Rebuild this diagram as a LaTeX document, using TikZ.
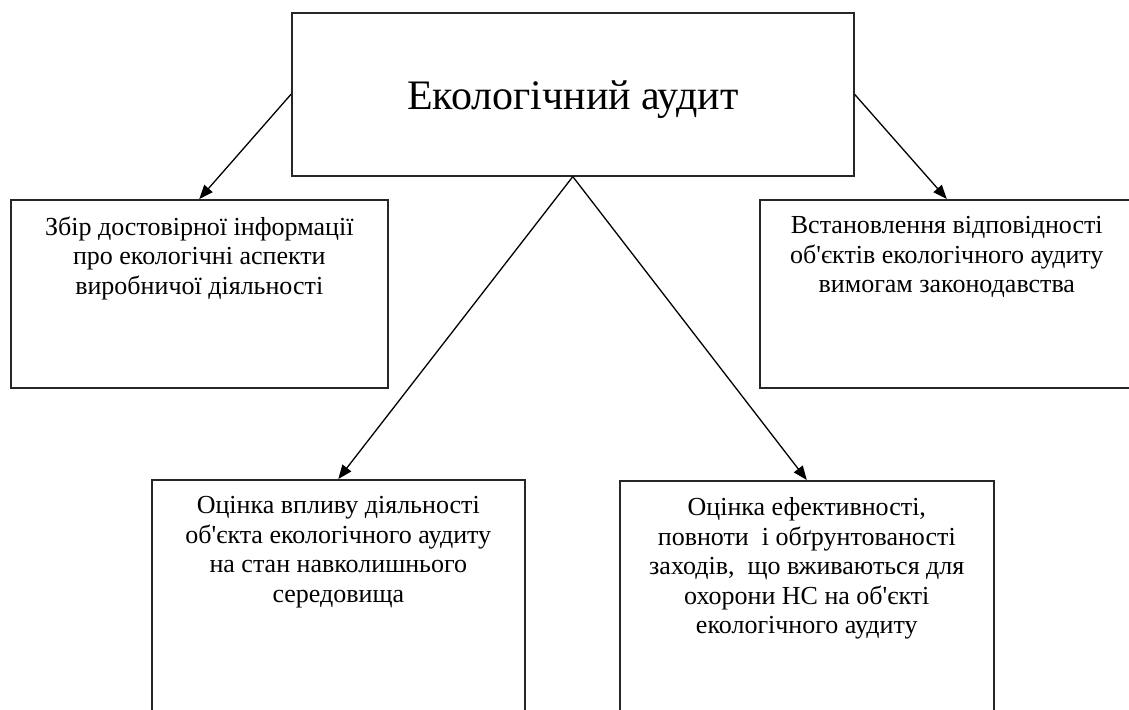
\documentclass[tikz,border=0pt]{standalone}
\usepackage{fontspec}
\setmainfont{Liberation Serif}
\usetikzlibrary{positioning,arrows.meta}
\tikzset{
  panel/.style={draw=black!85,line width=1.6pt,inner sep=0pt,anchor=north west},
  blurb/.style={align=center,inner sep=0pt,font=\fontsize{26}{29.5}\selectfont},
  link/.style={-{Triangle[length=14pt,width=11pt]},line width=1.3pt}
}

\begin{document}
\begin{tikzpicture}[x=1pt,y=-1pt]
  \useasboundingbox (0,0) rectangle (1129,709);
  \clip (0,0) rectangle (1129,709);

  % — Main box
  \node[panel,minimum width=562pt,minimum height=163pt,text height=31pt,text depth=0pt,
        font=\fontsize{42}{49}\selectfont] (audit) at (291,12) {Екологічний аудит};

  % — Upper side boxes
  \node[panel,minimum width=377pt,minimum height=188pt] (collect) at (10,199) {};
  \node[panel,minimum width=374pt,minimum height=188pt] (comply)  at (759,199) {};

  % — Lower boxes (they run past the page edge)
  \node[panel,minimum width=373pt,minimum height=250pt] (impact)   at (151,479) {};
  \node[panel,minimum width=374pt,minimum height=250pt] (measures) at (619,480) {};

  % — Texts inside the boxes
  \node[blurb,below=17.5pt of collect.north] (collecttxt)
    {Збір достовірної інформації\\про екологічні аспекти\\виробничої діяльності};
  \node[blurb,below=17.5pt of comply.north] (complytxt)
    {Встановлення відповідності\\об\textquotesingle єктів екологічного аудиту\\вимогам законодавства};
  \node[blurb,below=17.5pt of impact.north] (impacttxt)
    {Оцінка впливу діяльності\\об\textquotesingle єкта екологічного аудиту\\на стан навколишнього\\середовища};
  \node[blurb,below=17.5pt of measures.north] (measurestxt)
    {Оцінка ефективності,\\повноти~ і обґрунтованості\\заходів,~ що вживаються для\\охорони НС на об\textquotesingle єкті\\екологічного аудиту};

  % — Arrows from the main box
  \draw[link] (audit.west)  -- (collect.north);
  \draw[link] (audit.east)  -- (comply.north);
  \draw[link] (audit.south) -- (impact.north);
  \draw[link] (audit.south) -- (measures.north);
\end{tikzpicture}
\end{document}
